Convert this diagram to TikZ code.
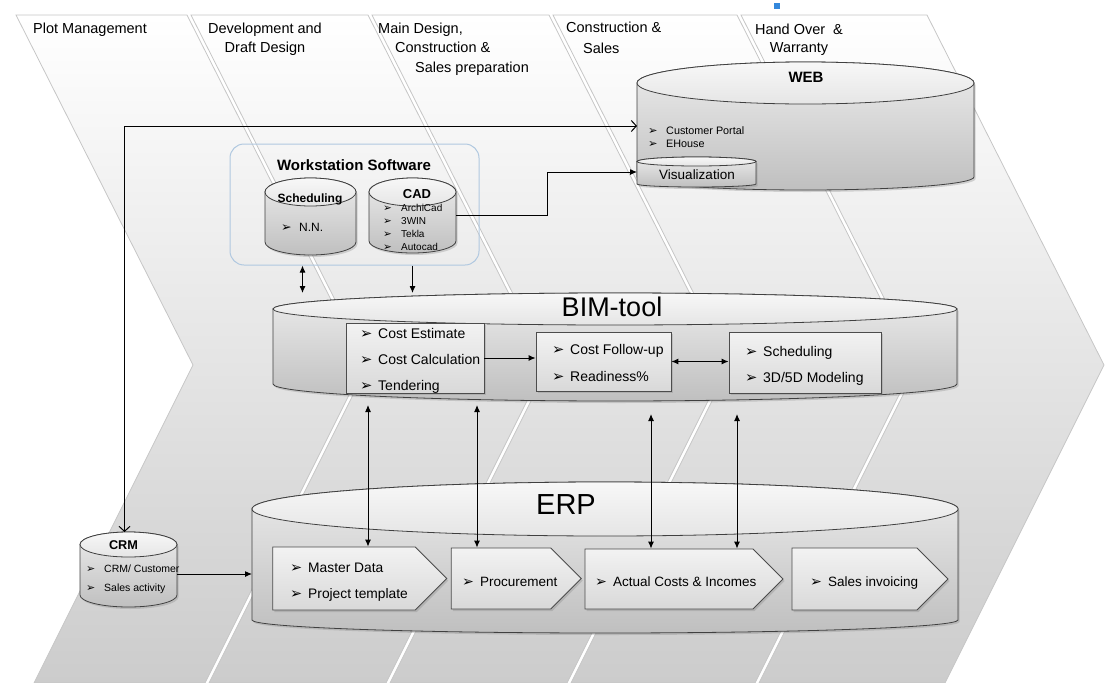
\documentclass[tikz,border=0pt]{standalone}
\usepackage{fontspec}
\setmainfont{Liberation Sans}
\newfontfamily\dejavu{DejaVu Sans}
\usetikzlibrary{arrows.meta,shapes.symbols,shadows,calc}

\definecolor{handle}{RGB}{52,136,220}
\definecolor{wsline}{RGB}{176,200,224}

% bullet used in all the lists
\newcommand{\bul}{\makebox[18pt][l]{\scalebox{1.05}{\dejavu ➢}}}
\newcommand{\fs}[2]{\fontsize{#1}{#2}\selectfont}
% database drum over a named node: #1 node, #2 top radius, #3 bottom radius
\newcommand{\dbdraw}[3]{%
  \path[dbbody] let \p1=(#1.north west), \p2=(#1.south east), \n1={(\x2-\x1)/2} in
    (\x1,\y1-#2pt) -- (\x1,\y2+#3pt)
    arc[start angle=180,end angle=360,x radius=\n1,y radius=#3pt]
    -- (\x2,\y1-#2pt)
    arc[start angle=0,end angle=180,x radius=\n1,y radius=#2pt] -- cycle;
  \path[dbend] let \p1=(#1.north west), \p2=(#1.south east), \n1={(\x2-\x1)/2} in
    (\x1+\n1,\y1-#2pt) ellipse[x radius=\n1,y radius=#2pt];
}

\tikzset{
  band/.style={draw=gray!45,line width=0.8pt,top color=white,middle color=gray!10,bottom color=gray!40},
  phase/.style={anchor=base west,align=left,inner sep=0pt,font=\fs{14.5}{19.5}},
  db/.style={rectangle,inner sep=0pt,outer sep=0pt},
  dbbody/.style={draw=black!75,line width=0.8pt,top color=gray!15,bottom color=gray!50,
    drop shadow={shadow xshift=1.5pt,shadow yshift=-2pt,opacity=0.3}},
  dbend/.style={draw=black!75,line width=0.8pt,top color=gray!6,bottom color=gray!20},
  itembox/.style={rectangle,draw=black!70,line width=0.8pt,top color=gray!10,bottom color=gray!30,
    inner sep=0pt,drop shadow={shadow xshift=1.5pt,shadow yshift=-2pt,opacity=0.3}},
  stage/.style={signal,signal to=east,signal pointer angle=90,draw=black!70,line width=0.8pt,
    top color=gray!10,bottom color=gray!30,inner sep=0pt,
    drop shadow={shadow xshift=1.5pt,shadow yshift=-2pt,opacity=0.3}},
  txt/.style={anchor=base west,align=left,inner sep=0pt},
  title/.style={inner sep=0pt},
  one/.style={-{Latex[length=7pt,width=6pt]},line width=1pt},
  two/.style={{Latex[length=7pt,width=6pt]}-{Latex[length=7pt,width=6pt]},line width=1pt},
  barb/.style={{Straight Barb[length=5pt,width=11pt]}-{Straight Barb[length=5pt,width=11pt]},line width=1pt},
}

\begin{document}
\begin{tikzpicture}[x=1pt,y=-1pt]
  \useasboundingbox (0,0) rectangle (1109,683);

  % phase bands
  \foreach \a/\b in {14/189,189/370,370/551,551/739,739/929}
    \draw[band] (\a+2,15) -- (\b-2,15) -- (\b+175,365) -- (\b+16,683)
      -- (\a+20,683) -- (\a+179,365) -- cycle;
  \fill[handle] (774,3) rectangle (780,9);

  % multi-line nodes sit on the baseline of their last line
  \node[phase] (p1) at (33,33) {Plot Management};
  \node[phase,align=center,anchor=base] (p2) at (265,52.5) {Development and\\Draft Design};
  \node[phase] (p3) at (378,72) {Main Design,\\\hspace*{17pt}Construction \&\\\hspace*{37pt}Sales preparation};
  \node[phase,font=\fs{14.5}{21}] (p4) at (566,53) {Construction \&\\\hspace*{17pt}Sales};
  \node[phase,align=center,anchor=base,font=\fs{14.5}{18}] (p5) at (799,52) {Hand Over\ \ \&\\Warranty};

  % workstation software
  \node[draw=wsline,line width=1pt,rounded corners=14pt,minimum width=249,minimum height=121,inner sep=0pt] (ws) at (354.5,204.5) {};
  \node[title,font=\bfseries\fs{15}{18}] (wstitle) at (354,165) {Workstation Software};
  \node[db,minimum width=91,minimum height=77] (sched) at (310.5,216.5) {};
  \dbdraw{sched}{14}{13}
  \node[title,font=\bfseries\fs{12}{14}] (schedtitle) at (310,199) {Scheduling};
  \node[txt,font=\fs{12}{14}] (schedlist) at (281,231) {\bul N.N.};
  \node[db,minimum width=87,minimum height=75] (cad) at (412.5,215.5) {};
  \dbdraw{cad}{14}{12}
  \node[title,font=\bfseries\fs{13}{15}] (cadtitle) at (417,194) {CAD};
  \node[txt,font=\fs{10}{13}] (cadlist) at (383,250.5) {\bul ArchiCad\\\bul 3WIN\\\bul Tekla\\\bul Autocad};

  % web
  \node[db,minimum width=337,minimum height=128] (web) at (805.5,126) {};
  \dbdraw{web}{21}{13}
  \node[title,font=\bfseries\fs{15}{18}] (webtitle) at (806,77) {WEB};
  \node[txt,font=\fs{10.8}{13}] (weblist) at (648,147) {\bul Customer Portal\\\bul EHouse};
  \node[db,minimum width=119,minimum height=30] (vis) at (696.5,172) {};
  \dbdraw{vis}{4.5}{3}
  \node[title,font=\fs{13.5}{16}] (vistext) at (697,175) {Visualization};

  % bim
  \node[db,minimum width=684,minimum height=108] (bim) at (615,347) {};
  \dbdraw{bim}{16}{17}
  \node[title,font=\fs{27}{30}] (bimtitle) at (612,307) {BIM-tool};
  \node[itembox,minimum width=138,minimum height=70] (cest) at (415,358) {};
  \node[txt,font=\fs{14}{26}] (cestlist) at (360,390) {\bul Cost Estimate\\\bul Cost Calculation\\\bul Tendering};
  \node[itembox,minimum width=135,minimum height=59] (cfol) at (603.5,361.5) {};
  \node[txt,font=\fs{14}{27}] (cfollist) at (552,381) {\bul Cost Follow-up\\\bul Readiness\%};
  \node[itembox,minimum width=152,minimum height=61] (plan) at (805,362.5) {};
  \node[txt,font=\fs{14}{26}] (planlist) at (745,382) {\bul Scheduling\\\bul 3D/5D Modeling};

  % erp
  \node[db,minimum width=706,minimum height=151] (erp) at (605,557.5) {};
  \dbdraw{erp}{27}{13}
  \node[title,font=\fs{29}{32}] (erptitle) at (566,505) {ERP};
  \node[stage,minimum width=174,minimum height=63] (master) at (344,578.5) {};
  \node[txt,font=\fs{13.8}{26}] (masterlist) at (290,598) {\bul Master Data\\\bul Project template};
  \node[stage,minimum width=130,minimum height=61] (proc) at (501,578.5) {};
  \node[txt,font=\fs{13.5}{16}] (proclist) at (462,586) {\bul Procurement};
  \node[stage,minimum width=198,minimum height=60] (act) at (669,579) {};
  \node[txt,font=\fs{13.5}{16}] (actlist) at (595,586) {\bul Actual Costs \& Incomes};
  \node[stage,minimum width=156,minimum height=62] (inv) at (854.5,579) {};
  \node[txt,font=\fs{13.5}{16}] (invlist) at (810,586) {\bul Sales invoicing};

  % crm
  \node[db,minimum width=97,minimum height=75] (crm) at (128.5,569.5) {};
  \dbdraw{crm}{12.5}{12}
  \node[title,font=\bfseries\fs{12.7}{15}] (crmtitle) at (123.5,545) {CRM};
  \node[txt,font=\fs{10.5}{19}] (crmlist) at (86,591) {\bul CRM/ Customer\\\bul Sales activity};

  % connectors
  \coordinate (c0) at ([xshift=-4pt]crm.north);
  \draw[barb] (c0) |- (web.west);
  \draw[one] (cad.east) -| ([xshift=-90pt]vis.west) -- (vis.west);
  \coordinate (w1) at ([xshift=-8pt]sched.south);
  \draw[two] (w1 |- ws.south) -- (w1 |- bim.north);
  \draw[one] (cad |- ws.south) -- (cad |- bim.north);
  \draw[one] (cest.east) -- (cest.east -| cfol.west);
  \draw[two] (cfol.east) -- (cfol.east -| plan.west);
  \coordinate (e1) at ([xshift=24pt]master.north);
  \coordinate (e2) at ([xshift=-24pt]proc.north);
  \coordinate (e3) at ([xshift=-18pt]act.north);
  \coordinate (e4) at ([xshift=68pt]act.north);
  \draw[two,shorten <=4pt] (e1 |- bim.south) -- (e1);
  \draw[two,shorten <=4pt] (e2 |- bim.south) -- (e2);
  \draw[two,shorten <=13pt] (e3 |- bim.south) -- (e3);
  \draw[two,shorten <=13pt] (e4 |- bim.south) -- (e4);
  \coordinate (c1) at ([yshift=-4.5pt]crm.east);
  \draw[one] (c1) -- (c1 -| erp.west);
\end{tikzpicture}
\end{document}
